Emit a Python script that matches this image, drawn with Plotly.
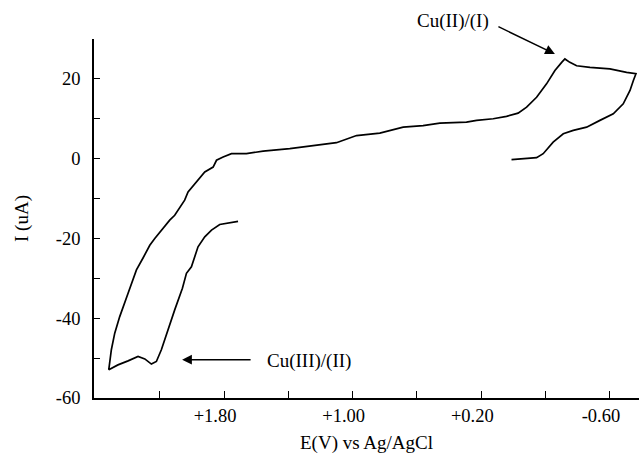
import plotly.graph_objects as go

# Cyclic voltammogram (E in V vs Ag/AgCl, I in uA), in scan order
E = [1.713, 1.765, 1.827, 1.878, 1.920, 1.962, 1.982, 2.003, 2.034, 2.059,
     2.107, 2.148, 2.190, 2.221, 2.252, 2.293, 2.335, 2.397, 2.460, 2.517,
     2.508, 2.501, 2.480, 2.449, 2.397, 2.345, 2.304, 2.262, 2.231, 2.180,
     2.138, 2.107, 2.065, 2.045, 2.024, 1.982, 1.920, 1.868, 1.847, 1.806,
     1.754, 1.661, 1.557, 1.391, 1.246, 1.101, 0.976, 0.831, 0.686, 0.562,
     0.458, 0.292, 0.229, 0.126, 0.043, -0.029, -0.082, -0.144, -0.206, -0.258,
     -0.300, -0.320, -0.351, -0.393, -0.476, -0.600, -0.704, -0.762, -0.746, -0.725,
     -0.683, -0.621, -0.538, -0.455, -0.372, -0.310, -0.247, -0.185, -0.144, -0.082,
     0.012]
I = [-15.7, -16.0, -16.5, -17.9, -19.6, -22.1, -24.6, -27.1, -28.75, -32.5,
     -37.9, -42.9, -47.9, -50.85, -51.5, -50.2, -49.6, -50.7, -51.7, -52.9,
     -50.4, -47.9, -43.75, -39.6, -33.75, -27.9, -24.9, -21.7, -20.0, -17.5,
     -15.4, -14.2, -11.7, -10.4, -8.35, -6.25, -3.35, -2.1, -0.4, 0.4,
     1.25, 1.25, 1.9, 2.5, 3.3, 4.0, 5.8, 6.4, 7.9, 8.3,
     8.9, 9.15, 9.6, 10.0, 10.6, 11.4, 12.9, 15.4, 18.75, 22.1,
     24.15, 25.0, 24.15, 23.3, 22.9, 22.5, 21.65, 21.3, 19.6, 17.1,
     13.75, 11.25, 9.6, 7.9, 7.1, 6.25, 4.15, 1.25, 0.25, 0.0,
     -0.25]

x_tickvals = [2.2, 1.8, 1.4, 1.0, 0.6, 0.2, -0.2, -0.6]
x_ticktext = ["", "+1.80", "", "+1.00", "", "+0.20", "", "-0.60"]
y_tickvals = [20, 10, 0, -10, -20, -30, -40, -50, -60]
y_ticktext = ["20", "", "0", "", "-20", "", "-40", "", "-60"]

FONT = "Liberation Serif, Times New Roman, serif"

fig = go.Figure()
fig.add_trace(go.Scatter(x=E, y=I, mode="lines",
                         line=dict(color="black", width=1.7),
                         showlegend=False, hoverinfo="skip"))

fig.update_layout(
    width=639, height=454,
    margin=dict(l=94, r=0, t=39, b=56),
    paper_bgcolor="white", plot_bgcolor="white",
    font=dict(family=FONT, size=19, color="black"),
    xaxis=dict(
        range=[2.609, -0.781], showgrid=False, zeroline=False,
        showline=True, linecolor="black", linewidth=1.6,
        ticks="inside", ticklen=7, tickwidth=1.4, tickcolor="black",
        tickmode="array", tickvals=x_tickvals, ticktext=x_ticktext,
        tickfont=dict(family=FONT, size=18.5, color="black"),
        ticklabelshift=9,
        title=dict(text="E(V) vs Ag/AgCl", standoff=11,
                   font=dict(family=FONT, size=19, color="black")),
    ),
    yaxis=dict(
        range=[-60, 30], showgrid=False, zeroline=False,
        showline=True, linecolor="black", linewidth=1.6,
        ticks="inside", ticklen=6, tickwidth=1.4, tickcolor="black",
        tickmode="array", tickvals=y_tickvals, ticktext=y_ticktext,
        tickfont=dict(family=FONT, size=18.5, color="black"),
        ticklabelstandoff=8,
        title=dict(text="I (uA)", standoff=22,
                   font=dict(family=FONT, size=19, color="black")),
    ),
    annotations=[
        dict(x=-0.258, y=26.25, xref="x", yref="y", text="", showarrow=True,
             ax=-58, ay=-28, arrowhead=2, arrowsize=1.3, arrowwidth=1.5,
             arrowcolor="black"),
        dict(x=0.377, y=1.05, xref="x", yref="paper", text="Cu(II)/(I)",
             showarrow=False, xanchor="center", yanchor="middle",
             font=dict(family=FONT, size=19, color="black")),
        dict(x=2.061, y=-50.4, xref="x", yref="y", text="", showarrow=True,
             ax=70, ay=0, arrowhead=2, arrowsize=1.3, arrowwidth=1.5,
             arrowcolor="black"),
        dict(x=1.547, y=-50.7, xref="x", yref="y", text="Cu(III)/(II)",
             showarrow=False, xanchor="left", yanchor="middle",
             font=dict(family=FONT, size=19, color="black")),
    ],
)

fig.write_html("out.html")
